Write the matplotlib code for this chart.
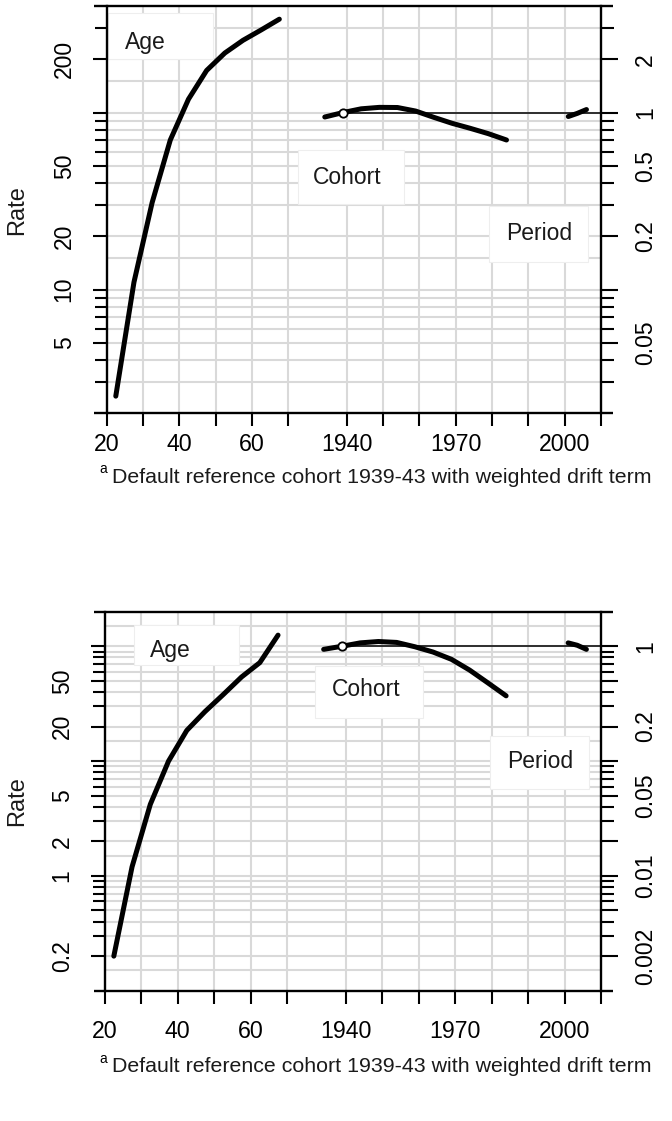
import numpy as np
import matplotlib
matplotlib.use("Agg")
import matplotlib.pyplot as plt
from matplotlib.patches import Rectangle
from matplotlib.ticker import NullFormatter

plt.rcParams["font.family"] = ["Liberation Sans", "DejaVu Sans"]

W, H = 672, 1121

# calendar time is drawn on the age scale, shifted by this many years
CAL_SHIFT = 1854
REF_COHORT = 1939

# ---- data ----
age_mid = [22.5, 27.5, 32.5, 37.5, 42.5, 47.5, 52.5, 57.5, 62.5, 67.5]
cohort_yr = [1934, 1939, 1944, 1949, 1954, 1959, 1964, 1969, 1974, 1979, 1984]
period_yr = [2001, 2003.5, 2006]

# upper panel
age_rate_1 = [2.5, 11, 31, 70, 119, 173, 217, 256, 293, 337]
cohort_rr_1 = [0.944, 1.0, 1.05, 1.07, 1.068, 1.02, 0.94, 0.87, 0.815, 0.76, 0.70]
period_rr_1 = [0.95, 0.99, 1.04]

# lower panel
age_rate_2 = [0.2, 1.2, 4.2, 10, 18.5, 27, 38, 54, 72, 125]
cohort_rr_2 = [0.94, 1.0, 1.07, 1.10, 1.08, 0.99, 0.89, 0.77, 0.62, 0.48, 0.37]
period_rr_2 = [1.07, 1.02, 0.94]

age_ticks = [20, 30, 40, 50, 60, 70]
age_labels = ["20", "", "40", "", "60", ""]
cal_ticks = [1940, 1950, 1960, 1970, 1980, 1990, 2000, 2010]
cal_labels = ["1940", "", "", "1970", "", "", "2000", ""]

rate_labels_1 = [5, 10, 20, 50, 200]
rr_labels_1 = [0.05, 0.2, 0.5, 1, 2]
rate_labels_2 = [0.2, 1, 2, 5, 20, 50]
rr_labels_2 = [0.002, 0.01, 0.05, 0.2, 1]

footnote = "Default reference cohort 1939-43 with weighted drift term"

fig = plt.figure(figsize=(W / 100, H / 100), dpi=100)


def fmt(v):
    return ("%g" % v)


def log_ticks(lo, hi, mults):
    out = []
    for k in range(-4, 5):
        for m in mults:
            v = m * 10.0 ** k
            if lo * 1.001 < v < hi * 0.999:
                out.append(v)
    return out


def px_ax(box, x, y):
    l, r, t, b = box
    return (x - l) / (r - l), (b - y) / (b - t)


def draw_panel(box, ylim, age_rate, cohort_rr, period_rr, rate_lab, rr_lab,
               labels, xpad, foot_y):
    l, r, t, b = box
    ax = fig.add_axes([l / W, 1 - b / H, (r - l) / W, (b - t) / H])
    ax.set_yscale("log")
    ax.set_xlim(20, cal_ticks[-1] - CAL_SHIFT)
    ax.set_ylim(*ylim)

    # grid
    grid_col = "#d9d9d9"
    xs_grid = age_ticks[1:] + [c - CAL_SHIFT for c in cal_ticks[:-1]]
    ax.vlines(xs_grid, ylim[0], ylim[1], color=grid_col, lw=1.5, zorder=1)
    hg = log_ticks(ylim[0], ylim[1], [1, 1.5, 2, 3, 4, 5, 6, 7, 8, 9])
    ax.hlines(hg, 20, cal_ticks[-1] - CAL_SHIFT, color=grid_col, lw=1.5, zorder=1)

    # frame
    for s in ["top", "bottom", "right"]:
        ax.spines[s].set_visible(False)
    ax.spines["left"].set_linewidth(1.7)
    ext_l = (l - 94) / (r - l)
    ext_r = (613 - l) / (r - l)
    for yy in (0, 1):
        ax.plot([-ext_l, ext_r], [yy, yy], transform=ax.transAxes, color="black",
                lw=1.7, clip_on=False, solid_capstyle="butt", zorder=5)

    # left ticks
    major = log_ticks(ylim[0], ylim[1], [1, 2, 5])
    minor = [v for v in log_ticks(ylim[0], ylim[1], range(1, 10)) if v not in major]
    ax.set_yticks(major, [fmt(v) if any(abs(v - q) < 1e-9 for q in rate_lab) else ""
                          for v in major])
    ax.set_yticks(minor, minor=True)
    ax.yaxis.set_minor_formatter(NullFormatter())
    ax.tick_params(axis="y", which="major", direction="out", length=10.3, width=1.5,
                   labelsize=16.5, pad=12)
    ax.tick_params(axis="y", which="minor", direction="out", length=8.4, width=1.5)
    for lab in ax.get_yticklabels():
        lab.set_rotation(90)
        lab.set_va("center")

    # bottom ticks
    xt = age_ticks + [c - CAL_SHIFT for c in cal_ticks]
    ax.set_xticks(xt, age_labels + cal_labels)
    ax.tick_params(axis="x", direction="out", length=9.4, width=1.5,
                   labelsize=16.7, pad=xpad)

    # right axis: rate ratios
    ax2 = ax.twinx()
    ax2.set_yscale("log")
    lo2, hi2 = ylim[0] / 100, ylim[1] / 100
    ax2.set_ylim(lo2, hi2)
    for s in ["top", "bottom", "left"]:
        ax2.spines[s].set_visible(False)
    ax2.spines["right"].set_linewidth(1.7)
    major2 = log_ticks(lo2, hi2, [1, 2, 5])
    minor2 = [v for v in log_ticks(lo2, hi2, range(1, 10)) if v not in major2]
    ax2.set_yticks(major2, [fmt(v) if any(abs(v - q) < 1e-12 for q in rr_lab) else ""
                            for v in major2])
    ax2.set_yticks(minor2, minor=True)
    ax2.yaxis.set_minor_formatter(NullFormatter())
    ax2.tick_params(axis="y", which="major", direction="out", length=12, width=1.5,
                    labelsize=16.5, pad=12)
    ax2.tick_params(axis="y", which="minor", direction="out", length=9.6, width=1.5)
    for lab in ax2.get_yticklabels():
        lab.set_rotation(90)
        lab.set_va("center")

    # label boxes
    for text, (bx0, by0, bx1, by1), (tx, ty) in labels:
        ax0, ay0 = px_ax(box, bx0, by1)
        ax1, ay1 = px_ax(box, bx1, by0)
        ax.add_patch(Rectangle((ax0, ay0), ax1 - ax0, ay1 - ay0, transform=ax.transAxes,
                               facecolor="white", edgecolor="#eeeeee", lw=0.8,
                               zorder=2, clip_on=False))
        txa, tya = px_ax(box, tx, ty)
        ax.text(txa, tya, text, transform=ax.transAxes, ha="left", va="center",
                fontsize=16.5, color="#1a1a1a", zorder=3)

    # curves
    ax.plot(age_mid, age_rate, color="black", lw=3.6, solid_capstyle="round",
            solid_joinstyle="round", zorder=4)
    cx = [c - CAL_SHIFT for c in cohort_yr]
    px = [p - CAL_SHIFT for p in period_yr]
    ax2.hlines(1, REF_COHORT - CAL_SHIFT, cal_ticks[-1] - CAL_SHIFT, color="black",
               lw=1.1, zorder=3)
    ax2.plot(cx, cohort_rr, color="black", lw=3.6, solid_capstyle="round",
             solid_joinstyle="round", zorder=4)
    ax2.plot(px, period_rr, color="black", lw=3.6, solid_capstyle="round",
             solid_joinstyle="round", zorder=4)
    ax2.plot([REF_COHORT - CAL_SHIFT], [1], marker="o", ms=6, mfc="white", mec="black",
             mew=1.3, zorder=5)

    fig.text(17.5 / W, 1 - (t + b) / 2 / H, "Rate", rotation=90, ha="center",
             va="center", fontsize=17, color="#1a1a1a")
    fig.text(99 / W, 1 - (foot_y - 8) / H, "a", ha="left", va="center", fontsize=10)
    fig.text(112 / W, 1 - foot_y / H, footnote, ha="left", va="center", fontsize=15.4,
             color="#1a1a1a")
    return ax


labels_1 = [("Age", (108, 13, 213, 59), (125, 42)),
            ("Cohort", (298, 150, 404, 204), (313, 177)),
            ("Period", (489, 206, 588, 262), (506, 233))]
labels_2 = [("Age", (134, 625, 239, 665), (150, 650)),
            ("Cohort", (315, 666, 423, 718), (332, 690)),
            ("Period", (490, 736, 589, 789), (507, 762))]

draw_panel((106.7, 601, 6, 413.3), (2.0, 400), age_rate_1, cohort_rr_1, period_rr_1,
           rate_labels_1, rr_labels_1, labels_1, 4.5, 477)
draw_panel((104.7, 601, 611.7, 990.7), (0.1, 200), age_rate_2, cohort_rr_2,
           period_rr_2, rate_labels_2, rr_labels_2, labels_2, 11.5, 1067)

fig.savefig("out.png", dpi=100)
